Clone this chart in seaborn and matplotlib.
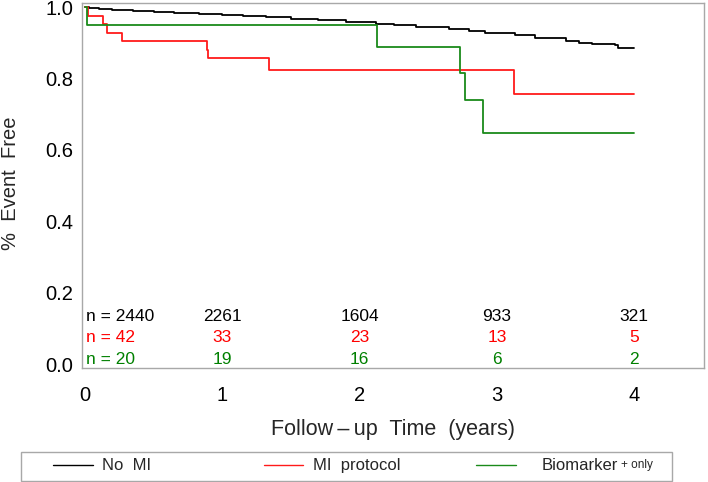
import matplotlib
matplotlib.use("Agg")
import matplotlib.pyplot as plt
from matplotlib.patches import Rectangle
from matplotlib.lines import Line2D
from matplotlib.ticker import MultipleLocator
import seaborn as sns
import pandas as pd

# ---- data ----
groups = ["No MI", "MI protocol", "Biomarker"]
colors = ["#000000", "#ff1a1a", "#1a8a1a"]
text_colors = ["#000000", "#ff0000", "#008000"]

nomi_t = [0, 0.03, 0.1, 0.2, 0.35, 0.5, 0.65, 0.83, 1.0, 1.15, 1.32, 1.5, 1.7, 1.9,
          2.12, 2.25, 2.41, 2.65, 2.8, 2.91, 3.13, 3.28, 3.5, 3.6, 3.69, 3.86, 3.88, 4.0]
nomi_s = [1.0, 0.997, 0.995, 0.992, 0.989, 0.986, 0.984, 0.981, 0.978, 0.975, 0.972,
          0.968, 0.964, 0.960, 0.953, 0.949, 0.945, 0.938, 0.933, 0.929, 0.922, 0.913,
          0.906, 0.901, 0.896, 0.894, 0.885, 0.885]

mi_t = [0, 0.024, 0.129, 0.158, 0.267, 0.891, 0.898, 1.338, 3.125, 4.0]
mi_s = [1.0, 0.976, 0.952, 0.929, 0.905, 0.881, 0.857, 0.823, 0.758, 0.758]

bio_t = [0, 0.017, 2.13, 2.73, 2.77, 2.90, 4.0]
bio_s = [1.0, 0.95, 0.889, 0.817, 0.741, 0.647, 0.647]

risk_times = [0, 1, 2, 3, 4]
risk_nomi = ["2440", "2261", "1604", "933", "321"]
risk_mi = ["42", "33", "23", "13", "5"]
risk_bio = ["20", "19", "16", "6", "2"]

xticks = [0, 1, 2, 3, 4]
yticks = [0.0, 0.2, 0.4, 0.6, 0.8, 1.0]

# ---- build table ----
df = pd.concat([
    pd.DataFrame({"time": nomi_t, "surv": nomi_s, "group": groups[0]}),
    pd.DataFrame({"time": mi_t, "surv": mi_s, "group": groups[1]}),
    pd.DataFrame({"time": bio_t, "surv": bio_s, "group": groups[2]}),
], ignore_index=True)

sns.set_theme(style="white")
plt.rcParams["font.family"] = ["Liberation Sans", "DejaVu Sans"]

fig = plt.figure(figsize=(7.08, 4.82), dpi=100)
ax = fig.add_axes([0.1154, 0.2359, 0.9944 - 0.1154, 0.9938 - 0.2359])

sns.lineplot(data=df, x="time", y="surv", hue="group", palette=dict(zip(groups, colors)),
             drawstyle="steps-post", estimator=None, sort=False, legend=False,
             linewidth=1.3, ax=ax)

ax.set_xlim(-0.024, 4.508)
ax.set_ylim(-0.012, 1.012)
ax.set_xticks(xticks)
ax.set_xticklabels([str(v) for v in xticks])
ax.set_yticks(yticks)
ax.set_yticklabels([f"{v:.1f}" for v in yticks])
ax.xaxis.set_minor_locator(MultipleLocator(0.5))
ax.yaxis.set_minor_locator(MultipleLocator(0.1))
ax.tick_params(axis="both", which="both", direction="out", length=4, width=0.8,
               color="#a0a0a0", labelsize=14.5, labelcolor="black", pad=2)
ax.tick_params(axis="both", which="minor", labelsize=0)
ax.tick_params(axis="x", which="major", pad=9)
for s in ax.spines.values():
    s.set_color("#a8a8a8")
    s.set_linewidth(1.0)
ax.set_xlabel("")
ax.set_ylabel("")

fig.text(11 / 708, 1 - 183 / 482, "%  Event  Free", rotation=90, ha="center", va="center",
         fontsize=14.5)
fig.text(393 / 708, 1 - 429 / 482, "Follow\u2009\u2013\u2009up  Time  (years)", ha="center",
         va="center", fontsize=15.5)

# at-risk table
rows = [(risk_nomi, text_colors[0], 0.132), (risk_mi, text_colors[1], 0.073),
        (risk_bio, text_colors[2], 0.014)]
for vals, col, yv in rows:
    for i, (t, v) in enumerate(zip(risk_times, vals)):
        if i == 0:
            ax.text(t + 0.005, yv, "n = " + v, ha="left", va="center", color=col, fontsize=12.5)
        else:
            ax.text(t, yv, v, ha="center", va="center", color=col, fontsize=12.5)

# legend box
W, H = 708, 482
def fx(x): return x / W
def fy(y): return 1 - y / H
fig.patches.append(Rectangle((fx(20.7), fy(480.7)), fx(671.7) - fx(20.7), fy(451.5) - fy(480.7),
                             transform=fig.transFigure, fill=False, edgecolor="#a8a8a8",
                             linewidth=1.0))
ly = fy(465.5)
for (x0, x1), col, (tx, lab) in zip([(52.7, 92.7), (264, 302.7), (476, 515.7)], colors,
                                     [(101.7, "No  MI"), (313.3, "MI  protocol"), (541.7, "Biomarker")]):
    fig.lines.append(Line2D([fx(x0), fx(x1)], [ly + 0.002, ly + 0.002], transform=fig.transFigure,
                            color=col, linewidth=1.0))
    fig.text(fx(tx), ly, lab, ha="left", va="center", fontsize=12)
fig.text(fx(621), ly + 0.001, "+ only", ha="left", va="center", fontsize=8.5)

fig.savefig("out.png", dpi=100)
